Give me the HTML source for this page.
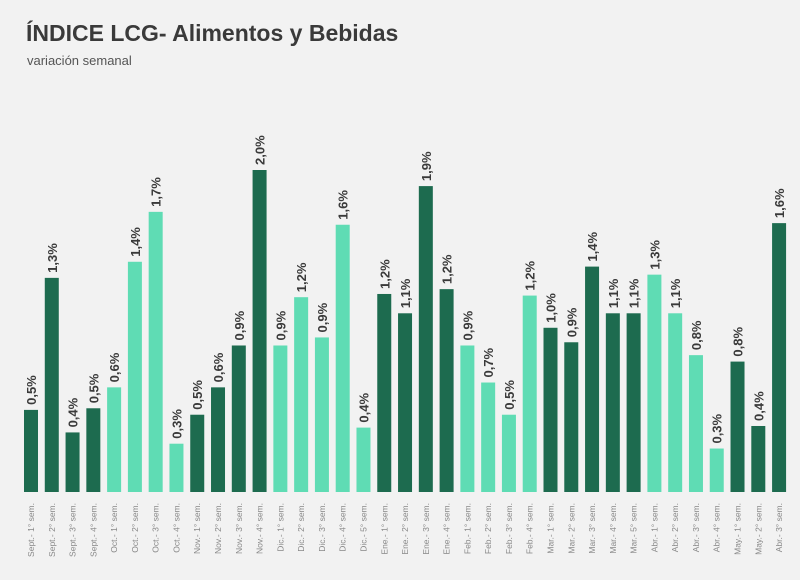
<!DOCTYPE html>
<html><head><meta charset="utf-8"><style>
body{margin:0;background:#f2f2f2;font-family:"Liberation Sans",sans-serif;}
#wrap{position:relative;width:800px;height:580px;overflow:hidden;background:#f2f2f2}
h1{position:absolute;left:26px;top:20px;margin:0;font-size:23px;color:#3a3a3a;font-weight:bold}
.sub{position:absolute;left:27px;top:53px;font-size:13px;color:#555}
</style></head><body>
<div id="wrap">
<h1>ÍNDICE LCG- Alimentos y Bebidas</h1>
<div class="sub">variación semanal</div>
<svg id="c" width="800" height="580" style="position:absolute;left:0;top:0"></svg>
</div>
<script>
const categories=["Sept.- 1° sem.","Sept.- 2° sem.","Sept.- 3° sem.","Sept.- 4° sem.","Oct.- 1° sem.","Oct.- 2° sem.","Oct.- 3° sem.","Oct.- 4° sem.","Nov.- 1° sem.","Nov.- 2° sem.","Nov.- 3° sem.","Nov.- 4° sem.","Dic.- 1° sem.","Dic.- 2° sem.","Dic.- 3° sem.","Dic.- 4° sem.","Dic.- 5° sem.","Ene.- 1° sem.","Ene.- 2° sem.","Ene.- 3° sem.","Ene.- 4° sem.","Feb.- 1° sem.","Feb.- 2° sem.","Feb.- 3° sem.","Feb.- 4° sem.","Mar.- 1° sem.","Mar.- 2° sem.","Mar.- 3° sem.","Mar.- 4° sem.","Mar.- 5° sem.","Abr.- 1° sem.","Abr.- 2° sem.","Abr.- 3° sem.","Abr.- 4° sem.","May.- 1° sem.","May.- 2° sem.","Abr.- 3° sem."];
const values=[0.51,1.33,0.37,0.52,0.65,1.43,1.74,0.30,0.48,0.65,0.91,2.0,0.91,1.21,0.96,1.66,0.40,1.23,1.11,1.90,1.26,0.91,0.68,0.48,1.22,1.02,0.93,1.40,1.11,1.11,1.35,1.11,0.85,0.27,0.81,0.41,1.67];
const labels=["0,5%","1,3%","0,4%","0,5%","0,6%","1,4%","1,7%","0,3%","0,5%","0,6%","0,9%","2,0%","0,9%","1,2%","0,9%","1,6%","0,4%","1,2%","1,1%","1,9%","1,2%","0,9%","0,7%","0,5%","1,2%","1,0%","0,9%","1,4%","1,1%","1,1%","1,3%","1,1%","0,8%","0,3%","0,8%","0,4%","1,6%"];
const groups=[0,0,0,0,1,1,1,1,0,0,0,0,1,1,1,1,1,0,0,0,0,1,1,1,1,0,0,0,0,0,1,1,1,1,0,0,0];
const svg=document.getElementById('c');const NS='http://www.w3.org/2000/svg';
const base=492,pxPer=161,x0=31,step=20.78,bw=14;
const y=v=>base-v*pxPer; const x=i=>x0+i*step;
values.forEach((v,i)=>{
 const r=document.createElementNS(NS,'rect');
 r.setAttribute('x',x(i)-bw/2);r.setAttribute('y',y(v));r.setAttribute('width',bw);r.setAttribute('height',base-y(v));
 r.setAttribute('fill',groups[i]?'#5fdcb4':'#1d6b4f');
 
 
 svg.appendChild(r);
 const t=document.createElementNS(NS,'text');
 t.setAttribute('transform',`translate(${x(i)+5},${y(v)-5}) rotate(-90)`);
 t.setAttribute('font-size','13');t.setAttribute('font-weight','bold');t.setAttribute('fill','#3a3a3a');
 t.textContent=labels[i];
 
 
 svg.appendChild(t);
 const c=document.createElementNS(NS,'text');
 c.setAttribute('transform',`translate(${x(i)+3},${503}) rotate(-90)`);
 c.setAttribute('font-size','8.5');c.setAttribute('fill','#888');c.setAttribute('text-anchor','end');
 c.textContent=categories[i];
 
 
 svg.appendChild(c);
});
</script>
</body></html>
